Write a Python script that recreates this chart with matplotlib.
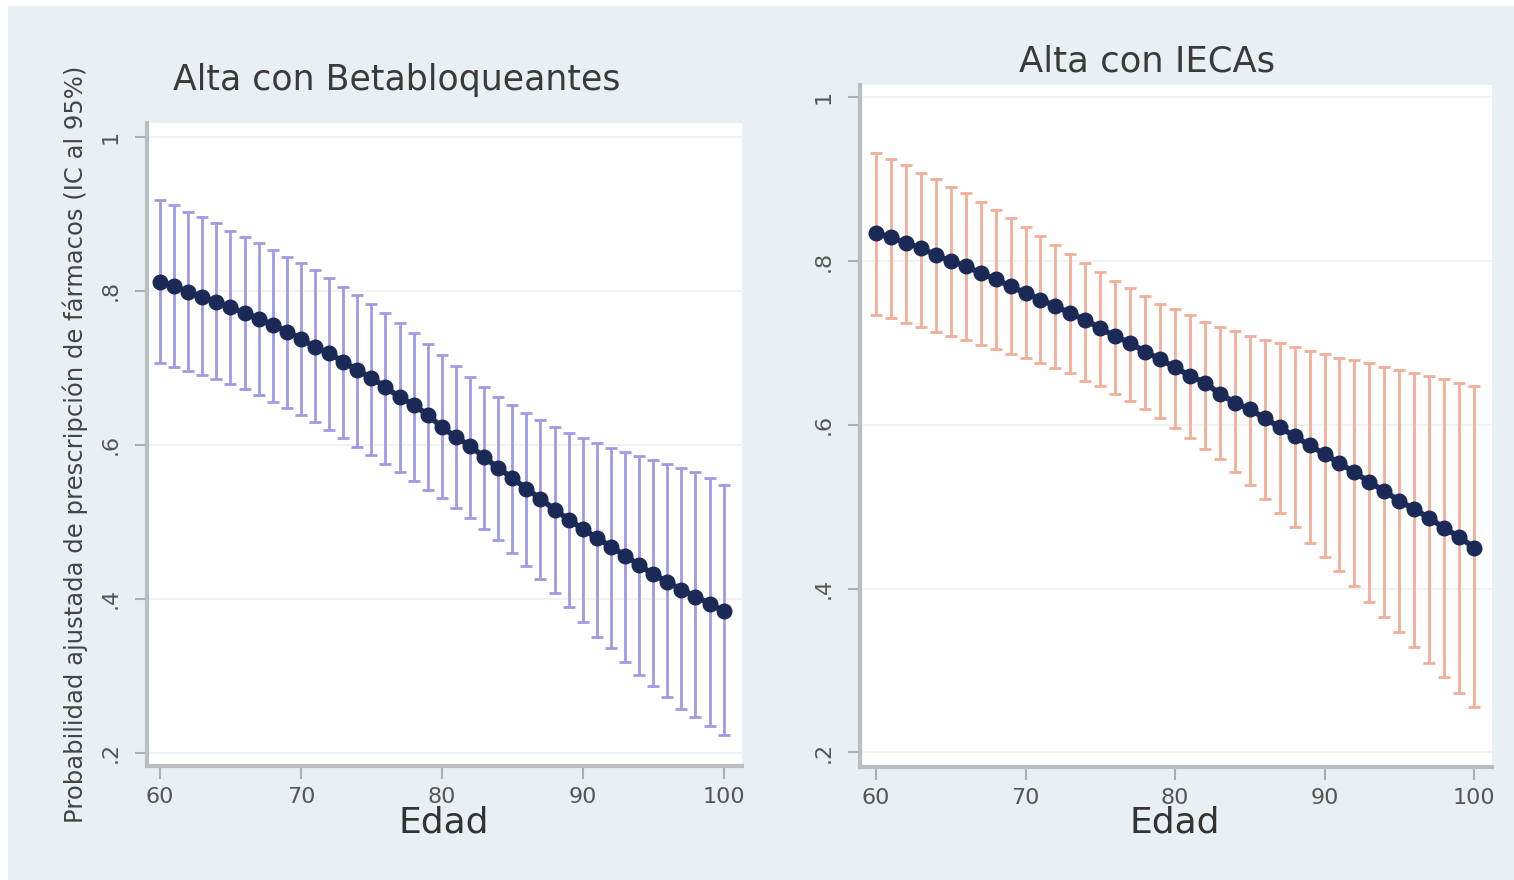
import numpy as np
import matplotlib
matplotlib.use("Agg")
import matplotlib.pyplot as plt
from matplotlib.patches import Rectangle

plt.rcParams['font.family'] = ['DejaVu Sans']

ages = np.arange(60, 101)

# Left panel: Alta con Betabloqueantes
beta_pt = [0.812, 0.806, 0.799, 0.792, 0.786, 0.779, 0.771, 0.764, 0.756, 0.747,
           0.738, 0.727, 0.719, 0.708, 0.697, 0.687, 0.675, 0.662, 0.652, 0.639,
           0.623, 0.610, 0.599, 0.584, 0.570, 0.557, 0.543, 0.530, 0.516, 0.503,
           0.491, 0.479, 0.468, 0.456, 0.444, 0.432, 0.422, 0.412, 0.403, 0.394,
           0.384]
beta_hi = [0.918, 0.912, 0.903, 0.896, 0.888, 0.878, 0.870, 0.862, 0.853, 0.844,
           0.836, 0.827, 0.817, 0.805, 0.795, 0.783, 0.771, 0.758, 0.745, 0.731,
           0.717, 0.703, 0.688, 0.675, 0.662, 0.652, 0.642, 0.632, 0.623, 0.616,
           0.609, 0.603, 0.596, 0.591, 0.586, 0.581, 0.575, 0.570, 0.565, 0.557,
           0.548]
beta_lo = [0.706, 0.701, 0.696, 0.691, 0.686, 0.679, 0.673, 0.665, 0.656, 0.648,
           0.639, 0.630, 0.619, 0.609, 0.597, 0.587, 0.575, 0.565, 0.553, 0.542,
           0.531, 0.518, 0.505, 0.491, 0.477, 0.460, 0.443, 0.426, 0.408, 0.390,
           0.370, 0.351, 0.336, 0.318, 0.301, 0.287, 0.273, 0.257, 0.247, 0.235,
           0.223]

# Right panel: Alta con IECAs
ieca_pt = [0.834, 0.829, 0.822, 0.816, 0.807, 0.800, 0.794, 0.785, 0.778, 0.769,
           0.761, 0.753, 0.745, 0.736, 0.728, 0.718, 0.708, 0.700, 0.689, 0.680,
           0.670, 0.660, 0.651, 0.638, 0.627, 0.619, 0.608, 0.597, 0.586, 0.575,
           0.564, 0.553, 0.542, 0.530, 0.519, 0.507, 0.497, 0.486, 0.474, 0.463,
           0.450]
ieca_hi = [0.932, 0.925, 0.917, 0.908, 0.900, 0.890, 0.883, 0.872, 0.862, 0.852,
           0.841, 0.830, 0.819, 0.809, 0.797, 0.786, 0.776, 0.767, 0.757, 0.748,
           0.741, 0.734, 0.726, 0.720, 0.714, 0.709, 0.704, 0.700, 0.695, 0.690,
           0.686, 0.682, 0.679, 0.675, 0.670, 0.667, 0.663, 0.659, 0.656, 0.651,
           0.647]
ieca_lo = [0.734, 0.730, 0.724, 0.719, 0.713, 0.708, 0.703, 0.697, 0.692, 0.687,
           0.681, 0.675, 0.669, 0.663, 0.654, 0.647, 0.638, 0.629, 0.619, 0.608,
           0.596, 0.584, 0.571, 0.558, 0.542, 0.526, 0.509, 0.492, 0.475, 0.456,
           0.438, 0.421, 0.403, 0.383, 0.365, 0.347, 0.328, 0.309, 0.292, 0.272,
           0.255]

yticks = [0.2, 0.4, 0.6, 0.8, 1.0]
ytick_labels = [".2", ".4", ".6", ".8", "1"]
xticks = [60, 70, 80, 90, 100]
xtick_labels = ["60", "70", "80", "90", "100"]

titles = ["Alta con Betabloqueantes", "Alta con IECAs"]
ylabel = "Probabilidad ajustada de prescripción de fármacos (IC al 95%)"
xlabel = "Edad"

W, H = 1514, 880
fig = plt.figure(figsize=(W / 100, H / 100), dpi=100)
fig.patch.set_facecolor('white')
fig.add_artist(Rectangle((8 / W, 0), 1, 1 - 6 / H, transform=fig.transFigure,
                         facecolor='#e9f0f3', edgecolor='none', zorder=-10))

axL = fig.add_axes([147 / W, 1 - 766 / H, (742 - 147) / W, (766 - 123) / H])
axR = fig.add_axes([860 / W, 1 - 767 / H, (1492 - 860) / W, (767 - 85) / H])


def draw(ax, pt, lo, hi, ecol, xlim, ylim):
    pt = np.array(pt); lo = np.array(lo); hi = np.array(hi)
    ax.set_facecolor('white')
    for y in yticks:
        ax.axhline(y, color='#eef1f3', lw=1.2, zorder=0)
    ax.errorbar(ages, pt, yerr=[pt - lo, hi - pt], fmt='none', ecolor=ecol,
                elinewidth=2.0, capsize=4, capthick=2.0, zorder=2)
    ax.plot(ages, pt, '-', color='#1e2d5c', lw=4, zorder=3)
    ax.plot(ages, pt, 'o', color='#1b2957', ms=10.5, mec='#1b2957', zorder=4)
    ax.set_xlim(*xlim)
    ax.set_ylim(*ylim)
    ax.set_xticks(xticks)
    ax.set_xticklabels(xtick_labels)
    ax.set_yticks(yticks)
    ax.set_yticklabels(ytick_labels, rotation=90, va='center')
    for s in ['top', 'right']:
        ax.spines[s].set_visible(False)
    for s in ['left', 'bottom']:
        ax.spines[s].set_color('#b9bec2')
        ax.spines[s].set_linewidth(3)
    ax.tick_params(axis='both', direction='out', length=9, width=1.5,
                   color='#a9aeb2', labelcolor='#555555', labelsize=16, pad=6)
    ax.tick_params(axis='y', pad=10)


draw(axL, beta_pt, beta_lo, beta_hi, '#a09ae6', (59.08, 101.3), (0.183, 1.018))
draw(axR, ieca_pt, ieca_lo, ieca_hi, '#f2ae98', (58.93, 101.2), (0.182, 1.015))

fig.text(397 / W, 1 - 80 / H, titles[0], ha='center', va='center',
         fontsize=25, color='#3a3a3a')
fig.text(1147 / W, 1 - 62 / H, titles[1], ha='center', va='center',
         fontsize=25.5, color='#3a3a3a')
fig.text(75 / W, 1 - 444 / H, ylabel, ha='center', va='center', rotation=90,
         fontsize=17.5, color='#444444')
fig.text(444 / W, 1 - 822 / H, xlabel, ha='center', va='center',
         fontsize=26, color='#333333')
fig.text(1175 / W, 1 - 822 / H, xlabel, ha='center', va='center',
         fontsize=26, color='#333333')

fig.savefig('out.png', dpi=100, facecolor=fig.get_facecolor())
